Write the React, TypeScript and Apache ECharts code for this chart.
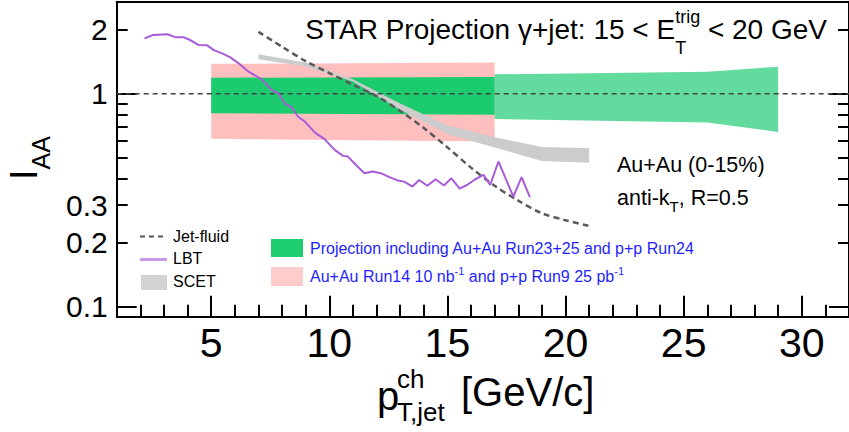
import React, { useEffect, useRef } from 'react';
import * as echarts from 'echarts';

// ---------- axes ----------
const X_MIN = 1;
const X_MAX = 32;
const Y_MIN = 0.09;
const Y_MAX = 2.7;
const xTickMajor = [5, 10, 15, 20, 25, 30];
const xTickMinor = [2, 3, 4, 6, 7, 8, 9, 11, 12, 13, 14, 16, 17, 18, 19, 21, 22, 23, 24, 26, 27, 28, 29, 31];
const yTickLabels = [0.1, 0.2, 0.3, 1, 2];
const yTickMinor = [0.2, 0.3, 0.4, 0.5, 0.6, 0.7, 0.8, 0.9, 2];
const yTickMajor = [0.1, 1];

// ---------- reference line ----------
const unityX = [1, 32];
const unityY = [1, 1];

// ---------- uncertainty bands ----------
const run14X = [5, 17];
const run14Upper = [1.38, 1.4];
const run14Lower = [0.614, 0.596];

const projX = [5, 17];
const projUpper = [1.188, 1.197];
const projLower = [0.81, 0.797];

const projExtX = [17, 26, 29];
const projExtUpper = [1.233, 1.268, 1.338];
const projExtLower = [0.761, 0.732, 0.662];

// ---------- theory ----------
const scetX = [7, 9, 11, 13, 15, 17, 19, 21];
const scetUpper = [1.53, 1.4, 1.17, 0.9, 0.71, 0.625, 0.563, 0.555];
const scetLower = [1.45, 1.34, 1.14, 0.84, 0.645, 0.56, 0.484, 0.475];

const jetFluidX = [7, 8, 9, 10, 11, 12, 13, 14, 15, 16, 17, 18, 19, 20, 21];
const jetFluidY = [1.95, 1.66, 1.42, 1.25, 1.1, 0.975, 0.83, 0.69, 0.56, 0.45, 0.37, 0.315, 0.275, 0.255, 0.24];

const lbtX = [2.18, 2.52, 3.15, 3.5, 3.85, 4.13, 4.48, 4.83, 5.11, 5.46, 5.81, 6.16, 6.58, 7.14, 7.56, 7.84, 8.13, 8.4, 8.68, 8.97, 9.39, 9.8, 10.23, 10.58, 10.79, 11.13, 11.49, 11.84, 12.18, 12.54, 12.89, 13.17, 13.52, 13.8, 14.15, 14.5, 14.85, 15.17, 15.52, 15.83, 16.18, 16.53, 16.81, 17.16, 17.79, 18.14, 18.49];
const lbtY = [1.817, 1.883, 1.9, 1.837, 1.837, 1.78, 1.69, 1.685, 1.6, 1.545, 1.48, 1.388, 1.268, 1.168, 1.04, 1.005, 0.895, 0.864, 0.78, 0.74, 0.657, 0.612, 0.545, 0.511, 0.507, 0.463, 0.424, 0.432, 0.424, 0.406, 0.392, 0.387, 0.367, 0.394, 0.37, 0.397, 0.371, 0.401, 0.359, 0.373, 0.397, 0.416, 0.373, 0.481, 0.329, 0.406, 0.327];

const FONT = '"Liberation Sans", Arial, Helvetica, sans-serif';

let measureCtx: CanvasRenderingContext2D | null = null;
function textWidth(t: string, size: number): number {
  if (!measureCtx) measureCtx = document.createElement('canvas').getContext('2d');
  measureCtx!.font = `${size}px "Liberation Sans"`;
  return measureCtx!.measureText(t).width;
}

function txt(x: number, baseline: number, t: string, size: number, color = '#000', align = 'left') {
  return {
    type: 'text',
    x,
    y: baseline - 0.3465 * size,
    z: 50,
    silent: true,
    style: { text: t, fontSize: size, fontFamily: FONT, fill: color, align, verticalAlign: 'middle' },
  };
}

type Run =
  | { t: string; size: number; dy?: number }
  | { stack: { t: string; size: number; dy: number }[] };

function layoutRuns(x0: number, baseline: number, runs: Run[], color = '#000') {
  const els: any[] = [];
  let x = x0;
  for (const r of runs) {
    if ('stack' in r) {
      let w = 0;
      for (const s of r.stack) {
        els.push(txt(x, baseline + s.dy, s.t, s.size, color));
        w = Math.max(w, textWidth(s.t, s.size));
      }
      x += w;
    } else {
      els.push(txt(x, baseline + (r.dy || 0), r.t, r.size, color));
      x += textWidth(r.t, r.size);
    }
  }
  return { els, width: x - x0 };
}

function runsWidth(runs: Run[]) {
  return layoutRuns(0, 0, runs).width;
}

function bandSeries(name: string, xs: number[], up: number[], lo: number[], fill: string) {
  return {
    name,
    type: 'custom',
    coordinateSystem: 'cartesian2d',
    xAxisIndex: 0,
    yAxisIndex: 0,
    silent: true,
    data: [[xs[0], up[0]]],
    renderItem: (_p: any, api: any) => {
      const pts: number[][] = [];
      for (let i = 0; i < xs.length; i++) pts.push(api.coord([xs[i], up[i]]));
      for (let i = xs.length - 1; i >= 0; i--) pts.push(api.coord([xs[i], lo[i]]));
      return { type: 'polygon', shape: { points: pts }, style: { fill, stroke: null } };
    },
  };
}

export default function App() {
  const ref = useRef<HTMLDivElement>(null);

  useEffect(() => {
    document.body.style.margin = '0';
    const chart = echarts.init(ref.current!, null, { renderer: 'svg' });

    const axisLineStyle = { color: '#000', width: 2 };

    // title
    const titleRuns: Run[] = [
      { t: 'STAR Projection γ+jet: 15 < E', size: 28 },
      { stack: [{ t: 'trig', size: 18, dy: -16.6 }, { t: 'T', size: 18, dy: 14.4 }] },
      { t: ' < 20 GeV', size: 28 },
    ];
    const titleW = runsWidth(titleRuns);
    const title = layoutRuns(827 - titleW, 39.5, titleRuns);

    const cent1 = layoutRuns(617, 172.7, [{ t: 'Au+Au (0-15%)', size: 21.5 }]);
    const cent2 = layoutRuns(617, 205.2, [
      { t: 'anti-k', size: 21.5 },
      { t: 'T', size: 15, dy: 6.3 },
      { t: ', R=0.5', size: 21.5 },
    ]);

    const blue = '#1f1fff';
    const leg2a = layoutRuns(310, 253.7, [{ t: 'Projection including Au+Au Run23+25 and p+p Run24', size: 16 }], blue);
    const leg2b = layoutRuns(
      310,
      282.4,
      [
        { t: 'Au+Au Run14 10 nb', size: 16 },
        { t: '-1', size: 11, dy: -7.8 },
        { t: ' and p+p Run9 25 pb', size: 16 },
        { t: '-1', size: 11, dy: -7.8 },
      ],
      blue
    );

    const graphic: any[] = [
      ...title.els,
      ...cent1.els,
      ...cent2.els,
      ...leg2a.els,
      ...leg2b.els,
      // legend 1
      { type: 'line', z: 50, silent: true, shape: { x1: 140, y1: 236.5, x2: 166, y2: 236.5 }, style: { stroke: '#555', lineWidth: 2, lineDash: [5, 4] } },
      txt(173, 242, 'Jet-fluid', 16),
      { type: 'line', z: 50, silent: true, shape: { x1: 140, y1: 259.5, x2: 167, y2: 259.5 }, style: { stroke: '#c99be6', lineWidth: 3 } },
      txt(173, 263.7, 'LBT', 16),
      { type: 'rect', z: 50, silent: true, shape: { x: 141, y: 275, width: 26, height: 15 }, style: { fill: '#d3d3d3' } },
      txt(173, 287.4, 'SCET', 16),
      // legend 2
      { type: 'rect', z: 50, silent: true, shape: { x: 271, y: 239, width: 32, height: 18 }, style: { fill: '#1dcd70' } },
      { type: 'rect', z: 50, silent: true, shape: { x: 271, y: 267, width: 32, height: 19 }, style: { fill: '#ffcccc' } },
      // y title
      {
        type: 'group',
        x: 0,
        y: 180,
        rotation: Math.PI / 2,
        silent: true,
        children: [
          { type: 'text', x: 0, y: 37.3 - 0.3465 * 38, style: { text: 'I', fontSize: 38, fontFamily: FONT, fill: '#000', align: 'left', verticalAlign: 'middle' } },
          { type: 'text', x: textWidth('I', 38), y: 50 - 0.3465 * 25, style: { text: 'AA', fontSize: 25, fontFamily: FONT, fill: '#000', align: 'left', verticalAlign: 'middle' } },
        ],
      },
      // x title
      txt(377, 410, 'p', 40),
      txt(397, 388, 'ch', 26),
      txt(397, 421, 'T,jet', 26),
      txt(461, 406, '[GeV/c]', 40),
    ];

    const fmt = (v: number) => String(+(+v).toPrecision(3));

    const option: any = {
      animation: false,
      backgroundColor: '#fff',
      grid: { left: 116.7, top: 1.7, width: 738.3, height: 315, containLabel: false },
      xAxis: [
        {
          type: 'value', min: X_MIN, max: X_MAX, position: 'bottom',
          axisLine: { show: true, onZero: false, lineStyle: axisLineStyle },
          axisTick: { show: true, inside: true, length: 12, customValues: xTickMinor, lineStyle: axisLineStyle },
          axisLabel: { show: true, customValues: xTickMajor, fontSize: 41, color: '#000', fontFamily: FONT, margin: 6 },
          splitLine: { show: false },
        },
        {
          type: 'value', min: X_MIN, max: X_MAX, position: 'bottom',
          axisLine: { show: false, onZero: false },
          axisTick: { show: true, inside: true, length: 21, customValues: xTickMajor, lineStyle: axisLineStyle },
          axisLabel: { show: false },
          splitLine: { show: false },
        },
        {
          type: 'value', min: X_MIN, max: X_MAX, position: 'top',
          axisLine: { show: true, onZero: false, lineStyle: axisLineStyle },
          axisTick: { show: false },
          axisLabel: { show: false },
          splitLine: { show: false },
        },
      ],
      yAxis: [
        {
          type: 'log', logBase: 10, min: Y_MIN, max: Y_MAX, position: 'left',
          axisLine: { show: true, onZero: false, lineStyle: axisLineStyle },
          axisTick: { show: true, inside: true, length: 11, customValues: yTickMinor, lineStyle: axisLineStyle },
          axisLabel: { show: true, customValues: yTickLabels, fontSize: 30, color: '#000', fontFamily: FONT, margin: 9, formatter: fmt },
          splitLine: { show: false },
        },
        {
          type: 'log', logBase: 10, min: Y_MIN, max: Y_MAX, position: 'left',
          axisLine: { show: false, onZero: false },
          axisTick: { show: true, inside: true, length: 20, customValues: yTickMajor, lineStyle: axisLineStyle },
          axisLabel: { show: false },
          splitLine: { show: false },
        },
        {
          type: 'log', logBase: 10, min: Y_MIN, max: Y_MAX, position: 'right',
          axisLine: { show: true, onZero: false, lineStyle: axisLineStyle },
          axisTick: { show: true, inside: true, length: 11, customValues: yTickMinor, lineStyle: axisLineStyle },
          axisLabel: { show: false },
          splitLine: { show: false },
        },
        {
          type: 'log', logBase: 10, min: Y_MIN, max: Y_MAX, position: 'right',
          axisLine: { show: false, onZero: false },
          axisTick: { show: true, inside: true, length: 20, customValues: yTickMajor, lineStyle: axisLineStyle },
          axisLabel: { show: false },
          splitLine: { show: false },
        },
      ],
      series: [
        {
          name: 'unity', type: 'line', xAxisIndex: 0, yAxisIndex: 0, silent: true, symbol: 'none',
          data: unityX.map((x, i) => [x, unityY[i]]),
          lineStyle: { color: '#444', width: 1.5, type: [5, 4] },
        },
        bandSeries('Run14', run14X, run14Upper, run14Lower, '#ffbfbf'),
        bandSeries('Projection', projX, projUpper, projLower, '#1dcb6f'),
        bandSeries('ProjectionExt', projExtX, projExtUpper, projExtLower, 'rgba(40,205,120,0.72)'),
        bandSeries('SCET', scetX, scetUpper, scetLower, '#cccccc'),
        {
          name: 'Jet-fluid', type: 'line', xAxisIndex: 0, yAxisIndex: 0, silent: true, symbol: 'none', smooth: 0.3,
          data: jetFluidX.map((x, i) => [x, jetFluidY[i]]),
          lineStyle: { color: '#5a5a5a', width: 2.5, type: [6, 4] },
        },
        {
          name: 'LBT', type: 'line', xAxisIndex: 0, yAxisIndex: 0, silent: true, symbol: 'none',
          data: lbtX.map((x, i) => [x, lbtY[i]]),
          lineStyle: { color: '#a85bd8', width: 2 },
        },
      ],
      graphic,
    };

    chart.setOption(option);
    return () => chart.dispose();
  }, []);

  return <div ref={ref} style={{ width: 849, height: 432 }} />;
}
